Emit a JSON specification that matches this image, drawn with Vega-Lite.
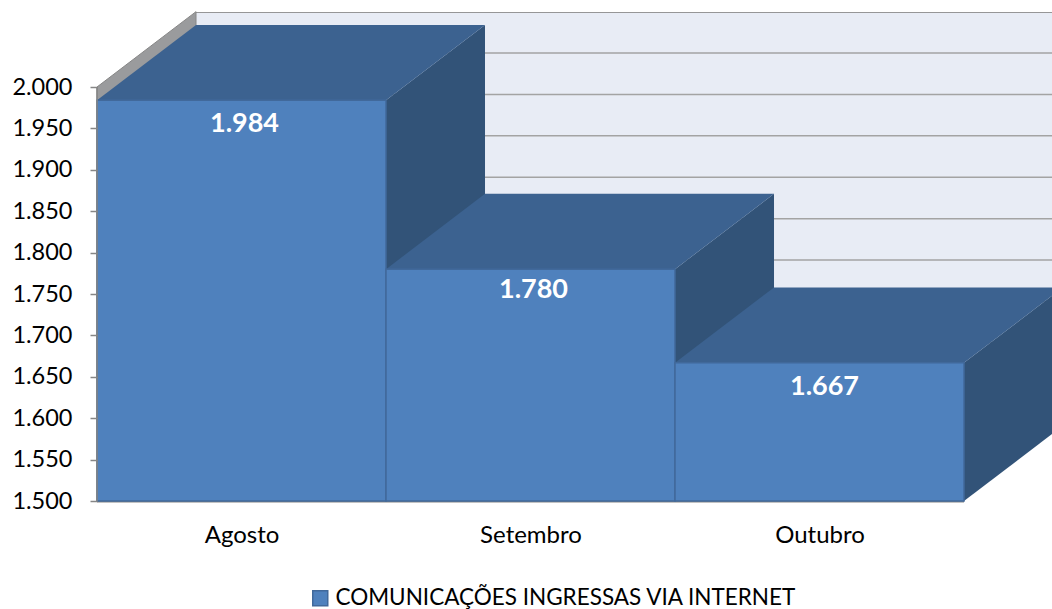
{"$schema":"https://vega.github.io/schema/vega-lite/v6.json","width":955,"height":489,"autosize":"none","padding":{"left":97,"top":12,"right":0,"bottom":108},"background":"white","view":{"stroke":null},"config":{"view":{"stroke":null},"font":"Lato"},
"datasets":{
"wall":[{"x":0.3426,"x2":3.31,"y":2091,"y2":1591}],
"leftwall":[{"x":0,"y":2000,"y2":1500},{"x":0.3426,"y":2091,"y2":1591}],
"yline":[{"x":0,"y":2000,"y2":1500}],
"grid":[{"level":1500,"y":1591,"x":0.3426,"x2":3.31},{"level":1550,"y":1641,"x":0.3426,"x2":3.31},{"level":1600,"y":1691,"x":0.3426,"x2":3.31},{"level":1650,"y":1741,"x":0.3426,"x2":3.31},{"level":1700,"y":1791,"x":0.3426,"x2":3.31},{"level":1750,"y":1841,"x":0.3426,"x2":3.31},{"level":1800,"y":1891,"x":0.3426,"x2":3.31},{"level":1850,"y":1941,"x":0.3426,"x2":3.31},{"level":1900,"y":1991,"x":0.3426,"x2":3.31},{"level":1950,"y":2041,"x":0.3426,"x2":3.31},{"level":2000,"y":2091,"x":0.3426,"x2":3.31}],
"side":[{"mes":"Agosto","x":1,"y":1984,"y2":1500},{"mes":"Agosto","x":1.3426,"y":2075,"y2":1591},{"mes":"Setembro","x":2,"y":1780,"y2":1500},{"mes":"Setembro","x":2.3426,"y":1871,"y2":1591},{"mes":"Outubro","x":3,"y":1667,"y2":1500},{"mes":"Outubro","x":3.3426,"y":1758,"y2":1591}],
"top":[{"mes":"Agosto","y":1984,"x":0,"x2":1},{"mes":"Agosto","y":2075,"x":0.3426,"x2":1.3426},{"mes":"Setembro","y":1780,"x":1,"x2":2},{"mes":"Setembro","y":1871,"x":1.3426,"x2":2.3426},{"mes":"Outubro","y":1667,"x":2,"x2":3},{"mes":"Outubro","y":1758,"x":2.3426,"x2":3.3426}],
"bars":[{"mes":"Agosto","serie":"COMUNICAÇÕES INGRESSAS VIA INTERNET","x":0,"x2":1,"mid":0.5,"valor":1984,"base":1500,"rotulo":"1.984"},{"mes":"Setembro","serie":"COMUNICAÇÕES INGRESSAS VIA INTERNET","x":1,"x2":2,"mid":1.5,"valor":1780,"base":1500,"rotulo":"1.780"},{"mes":"Outubro","serie":"COMUNICAÇÕES INGRESSAS VIA INTERNET","x":2,"x2":3,"mid":2.5,"valor":1667,"base":1500,"rotulo":"1.667"}]
},
"layer":[
{"data":{"name":"wall"},"mark":{"type":"rect","fill":"#E8ECF5","clip":true},"encoding":{
"x":{"field":"x","type":"quantitative","scale":{"domain":[0,3.3045],"nice":false,"zero":false},"title":null,"axis":{"values":[0.5,1.5,2.5],"labelExpr":"datum.value==0.5?'Agosto':datum.value==1.5?'Setembro':'Outubro'","domain":false,"ticks":false,"grid":false,"labelFontSize":24,"labelColor":"#000","labelPadding":22,"labelFont":"Lato","title":null}},
"x2":{"field":"x2"},
"y":{"field":"y","type":"quantitative","scale":{"domain":[1500,2090.6],"nice":false,"zero":false},"title":null,"axis":{"values":[1500,1550,1600,1650,1700,1750,1800,1850,1900,1950,2000],"labelExpr":"replace(format(datum.value,','),',','.')","domain":false,"tickColor":"#868686","tickSize":7,"tickWidth":1.5,"grid":false,"labelFontSize":23.5,"labelColor":"#000","labelPadding":18,"labelFont":"Lato","title":null,"zindex":1}},
"y2":{"field":"y2"}}},
{"data":{"name":"grid"},"mark":{"type":"rule","color":"#A3A3A3","strokeWidth":1.5,"clip":true},"encoding":{"x":{"field":"x","type":"quantitative"},"x2":{"field":"x2"},"y":{"field":"y","type":"quantitative"}}},
{"data":{"name":"grid"},"transform":[{"filter":"datum.level==2000"}],"mark":{"type":"rule","color":"#868686","strokeWidth":2,"clip":true},"encoding":{"x":{"field":"x","type":"quantitative"},"x2":{"field":"x2"},"y":{"field":"y","type":"quantitative"}}},
{"data":{"name":"leftwall"},"mark":{"type":"area","fill":"#9A9B9D","stroke":"#868686","strokeWidth":1,"orient":"vertical"},"encoding":{"x":{"field":"x","type":"quantitative"},"y":{"field":"y","type":"quantitative"},"y2":{"field":"y2"}}},
{"data":{"name":"side"},"mark":{"type":"area","fill":"#325378","orient":"vertical","clip":true},"encoding":{"x":{"field":"x","type":"quantitative"},"y":{"field":"y","type":"quantitative"},"y2":{"field":"y2"},"detail":{"field":"mes"}}},
{"data":{"name":"top"},"mark":{"type":"area","fill":"#3C6290","orient":"horizontal","clip":true},"encoding":{"y":{"field":"y","type":"quantitative"},"x":{"field":"x","type":"quantitative"},"x2":{"field":"x2"},"detail":{"field":"mes"}}},
{"data":{"name":"bars"},"mark":{"type":"rule","color":"#868686","strokeWidth":3},"encoding":{"x":{"field":"x","type":"quantitative"},"x2":{"field":"x2"},"y":{"field":"base","type":"quantitative"}}},
{"data":{"name":"bars"},"mark":{"type":"bar","stroke":"#41699B","strokeWidth":1.5},"encoding":{"x":{"field":"x","type":"quantitative"},"x2":{"field":"x2"},"y":{"field":"valor","type":"quantitative"},"y2":{"field":"base"},"color":{"field":"serie","type":"nominal","scale":{"range":["#4F81BD"]},"legend":{"orient":"none","legendX":212,"legendY":575,"title":null,"symbolType":"square","symbolSize":225,"symbolStrokeColor":"#41699B","symbolStrokeWidth":1.5,"labelFontSize":22.5,"labelColor":"#000","labelLimit":600,"labelFont":"Lato","labelOffset":4}}}},
{"data":{"name":"yline"},"mark":{"type":"rule","color":"#868686","strokeWidth":1.5},"encoding":{"x":{"field":"x","type":"quantitative"},"y":{"field":"y","type":"quantitative"},"y2":{"field":"y2"}}},
{"data":{"name":"bars"},"transform":[{"filter":"datum.mes=='Agosto'"}],"mark":{"type":"text","color":"white","fontWeight":"bold","fontSize":27,"font":"Lato","dy":24,"dx":3},"encoding":{"x":{"field":"mid","type":"quantitative"},"y":{"field":"valor","type":"quantitative"},"text":{"field":"rotulo"}}},
{"data":{"name":"bars"},"transform":[{"filter":"datum.mes=='Setembro'"}],"mark":{"type":"text","color":"white","fontWeight":"bold","fontSize":27,"font":"Lato","dy":21,"dx":3},"encoding":{"x":{"field":"mid","type":"quantitative"},"y":{"field":"valor","type":"quantitative"},"text":{"field":"rotulo"}}},
{"data":{"name":"bars"},"transform":[{"filter":"datum.mes=='Outubro'"}],"mark":{"type":"text","color":"white","fontWeight":"bold","fontSize":27,"font":"Lato","dy":24,"dx":5},"encoding":{"x":{"field":"mid","type":"quantitative"},"y":{"field":"valor","type":"quantitative"},"text":{"field":"rotulo"}}}
]}
